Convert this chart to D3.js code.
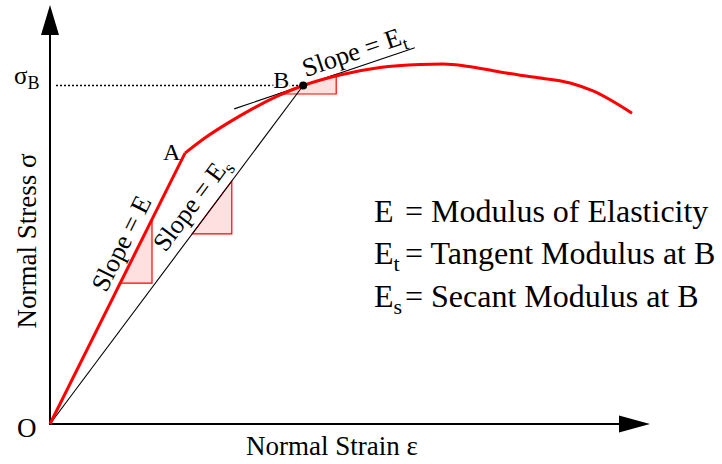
<!DOCTYPE html>
<html>
<head>
<meta charset="utf-8">
<script src="https://cdn.jsdelivr.net/npm/d3@7"></script>
<style>
  html, body { margin: 0; padding: 0; background: #fff; }
  text { font-family: "Liberation Serif", "Times New Roman", serif; fill: #000; }
</style>
</head>
<body>
<svg id="chart" width="722" height="464"></svg>
<script>
// ---- data (strain / stress, arbitrary units) ----
const strain = [0, 22.5, 25.8, 29.7, 33.8, 37.8, 42.2, 48.3, 55.0, 61.7, 65.5, 69.5, 75.0, 80.5, 86.7, 90.5, 97.0];
const stress = [0, 64.5, 68.1, 71.7, 75.1, 78.0, 80.6, 83.1, 84.9, 85.6, 85.7, 85.2, 83.8, 82.6, 81.2, 79.3, 74.0];
const idxA = 1, idxB = 6;
const tangentSlope = 0.484;          // dσ/dε at B
const tangentRange = [30.7, 60.8];   // strain extent of tangent line
const triE = [11.7, 17.0];           // slope triangle on elastic line
const triS = [23.7, 30.3];           // slope triangle on secant line
const triT = [38.0, 47.7];           // slope triangle on tangent line
const pointLabels = ["O", "A", "B"];
const legendRows = [
  {sym: "E", sub: "", text: "= Modulus of Elasticity"},
  {sym: "E", sub: "t", text: "= Tangent Modulus at B"},
  {sym: "E", sub: "s", text: "= Secant Modulus at B"}
];
const xTitle = "Normal Strain ε";
const yTitle = "Normal Stress σ";

// ---- scales ----
const svg = d3.select("#chart");
const x = d3.scaleLinear().domain([0, 100]).range([50, 650]);
const y = d3.scaleLinear().domain([0, 100]).range([424, 4]);

const pts = strain.map((e, i) => [e, stress[i]]);
const O = pts[0], A = pts[idxA], B = pts[idxB];
const P = d => [x(d[0]), y(d[1])];

// ---- axes with arrowheads ----
const g = svg.append("g");
g.append("line").attr("x1", x(0)).attr("y1", y(0)).attr("x2", 621).attr("y2", y(0))
  .attr("stroke", "#000").attr("stroke-width", 2);
g.append("line").attr("x1", x(0)).attr("y1", y(0) + 1).attr("x2", x(0)).attr("y2", 33)
  .attr("stroke", "#000").attr("stroke-width", 2);
g.append("path").attr("d", `M650,${y(0)} L619,${y(0) - 8.5} L619,${y(0) + 8.5} Z`).attr("fill", "#000");
g.append("path").attr("d", `M${x(0)},5 L${x(0) - 9},35 L${x(0) + 9},35 Z`).attr("fill", "#000");

// ---- helpers ----
const lineOf = (slope, e) => [e, slope * e];
const slopeE = A[1] / A[0];
const slopeS = B[1] / B[0];
const tanAt = e => [e, B[1] + tangentSlope * (e - B[0])];

function triangle(f, r) {
  const p1 = f(r[0]), p2 = f(r[1]);
  return [p1, [p2[0], p1[1]], p2];
}
const triLine = d3.line().x(d => x(d[0])).y(d => y(d[1]));

// slope triangles
[[e => lineOf(slopeE, e), triE], [e => lineOf(slopeS, e), triS], [tanAt, triT]].forEach(([f, r]) => {
  svg.append("path").attr("d", triLine(triangle(f, r)) + "Z")
    .attr("fill", "#ffe0e0").attr("stroke", "#ff0000").attr("stroke-width", 1.2);
});

// dotted sigma_B line
svg.append("line").attr("x1", x(0) + 6).attr("y1", y(B[1])).attr("x2", x(B[0])).attr("y2", y(B[1]))
  .attr("stroke", "#000").attr("stroke-width", 1.5).attr("stroke-dasharray", "2,2");

// secant and tangent lines
svg.append("path").attr("d", triLine([O, B])).attr("stroke", "#000").attr("stroke-width", 1.1).attr("fill", "none");
svg.append("path").attr("d", triLine([tanAt(tangentRange[0]), tanAt(tangentRange[1])]))
  .attr("stroke", "#000").attr("stroke-width", 1.1).attr("fill", "none");

// stress-strain curve
svg.append("path").attr("d", triLine([O, A]))
  .attr("stroke", "#ff0000").attr("stroke-width", 3).attr("fill", "none");
const curve = d3.line().x(d => x(d[0])).y(d => y(d[1])).curve(d3.curveMonotoneX);
svg.append("path").attr("d", curve(pts.slice(idxA)))
  .attr("stroke", "#ff0000").attr("stroke-width", 3).attr("fill", "none").attr("stroke-linejoin", "round");

// point B
svg.append("circle").attr("cx", x(B[0])).attr("cy", y(B[1])).attr("r", 4).attr("fill", "#000");

// ---- rotated slope labels ----
function along(p0, p1, dist, off) {
  const a = P(p0), b = P(p1);
  const dx = b[0] - a[0], dy = b[1] - a[1], L = Math.hypot(dx, dy);
  const u = [dx / L, dy / L], n = [u[1], -u[0]];
  return {x: a[0] + u[0] * dist + n[0] * off, y: a[1] + u[1] * dist + n[1] * off,
          ang: Math.atan2(u[1], u[0]) * 180 / Math.PI};
}
function slopeLabel(pos, sub) {
  const t = svg.append("text").attr("font-size", 26)
    .attr("transform", `translate(${pos.x},${pos.y}) rotate(${pos.ang})`);
  t.append("tspan").text("Slope = E");
  if (sub) t.append("tspan").attr("font-size", 18).attr("dy", 6).text(sub);
}
slopeLabel(along(O, A, 142, 8), "");
slopeLabel(along(O, B, 206, 10), "s");
slopeLabel(along(B, tanAt(tangentRange[1]), 5, 7), "t");

// ---- point labels ----
svg.append("text").attr("x", 17).attr("y", 437).attr("font-size", 27).text(pointLabels[0]);
svg.append("text").attr("x", x(A[0]) - 22).attr("y", y(A[1]) + 7).attr("font-size", 24).text(pointLabels[1]);
svg.append("text").attr("x", x(B[0]) - 30).attr("y", y(B[1]) + 3).attr("font-size", 24)
  .attr("stroke", "#fff").attr("stroke-width", 4).attr("paint-order", "stroke").text(pointLabels[2]);

// sigma_B
const sb = svg.append("text").attr("x", 14).attr("y", y(B[1]) - 1).attr("font-size", 25);
sb.append("tspan").text("σ");
sb.append("tspan").attr("font-size", 18).attr("dy", 5).text("B");

// ---- axis titles ----
svg.append("text").attr("x", 332).attr("y", 455).attr("text-anchor", "middle").attr("font-size", 27).text(xTitle);
svg.append("text").attr("transform", "translate(36,241) rotate(-90)").attr("text-anchor", "middle")
  .attr("font-size", 27).text(yTitle);

// ---- legend ----
const ly = [222, 264, 307];
legendRows.forEach((r, i) => {
  const t = svg.append("text").attr("x", 374).attr("y", ly[i]).attr("font-size", 32);
  t.append("tspan").text(r.sym);
  if (r.sub) t.append("tspan").attr("font-size", 22).attr("dy", 7).text(r.sub);
  t.append("tspan").attr("x", 405).attr("y", ly[i]).text(r.text);
});
</script>
</body>
</html>
